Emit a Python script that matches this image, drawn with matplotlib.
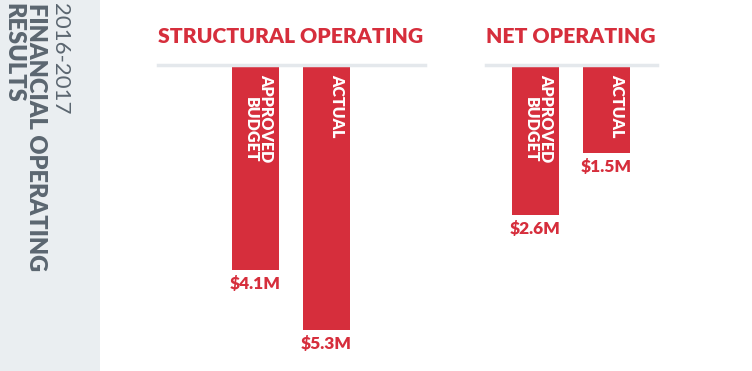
import matplotlib
matplotlib.use("Agg")
import matplotlib.pyplot as plt
from matplotlib.patches import Rectangle
from matplotlib.lines import Line2D

# data
panels = ["STRUCTURAL OPERATING", "NET OPERATING"]
bar_names = ["APPROVED\nBUDGET", "ACTUAL"]
structural = [4.1, 5.3]
net = [2.6, 1.5]
value_labels = [["$4.1M", "$5.3M"], ["$2.6M", "$1.5M"]]

RED = "#d62e3c"
GREY_TXT = "#5b6670"
PANEL = "#eaeef1"
LINE = "#e4e8ec"
FONT = ["Lato", "DejaVu Sans"]

W, H = 752, 371
fig = plt.figure(figsize=(W / 100, H / 100), dpi=100)
fig.patch.set_facecolor("white")


def fx(px):
    return px / W


def fy(py):
    return 1 - py / H


# side panel
fig.add_artist(Rectangle((0, 0), fx(100), 1, transform=fig.transFigure,
                         facecolor=PANEL, edgecolor="none"))
fig.text(fx(70), fy(3), "2016-2017", rotation=-90, ha="right", va="top",
         fontsize=16, color=GREY_TXT, family=FONT, fontweight="normal")
fig.text(fx(47), fy(3), "FINANCIAL OPERATING", rotation=-90, ha="right", va="top",
         fontsize=17, color=GREY_TXT, family=FONT, fontweight="heavy")
fig.text(fx(24), fy(3), "RESULTS", rotation=-90, ha="right", va="top",
         fontsize=17, color=GREY_TXT, family=FONT, fontweight="heavy")

# panel layout: (line left px, line right px, first bar centre px, px per $M)
layout = [(158, 425, 255.5, 49.6), (486, 657, 535.5, 57.0)]
step = 71.0
bar_w = 47.0
top = 67

for (left, right, c0, scale), title, vals, labels in zip(
        layout, panels, [structural, net], value_labels):
    ax = fig.add_axes([fx(left), 0, fx(right) - fx(left), fy(top)])
    x0 = -(c0 - left) / step
    x1 = (right - c0) / step
    ax.set_xlim(x0, x1)
    ax.set_ylim((H - top) / scale, 0)
    ax.axis("off")

    xs = list(range(len(vals)))
    bars = ax.bar(xs, vals, width=bar_w / step, align="center", color=RED)

    for b, name, lab in zip(bars, bar_names, labels):
        ax.annotate(name, (b.get_x() + b.get_width(), 0), xytext=(-5, -7),
                    textcoords="offset pixels", rotation=-90, ha="right", va="top",
                    color="white", fontsize=11.5, fontweight="heavy", family=FONT,
                    linespacing=0.95)
        ax.annotate(lab, (b.get_x() + b.get_width() / 2, b.get_height()),
                    xytext=(0, -6), textcoords="offset pixels", ha="center", va="top",
                    color=RED, fontsize=12.5, fontweight="heavy", family=FONT)

    fig.add_artist(Line2D([fx(left), fx(right)], [fy(64.5), fy(64.5)],
                          transform=fig.transFigure, color=LINE, lw=2.5))
    fig.text(fx(left), fy(43), title, ha="left", va="baseline", color=RED,
             fontsize=15.2, fontweight="heavy", family=FONT)

fig.savefig("out.png", dpi=100)
